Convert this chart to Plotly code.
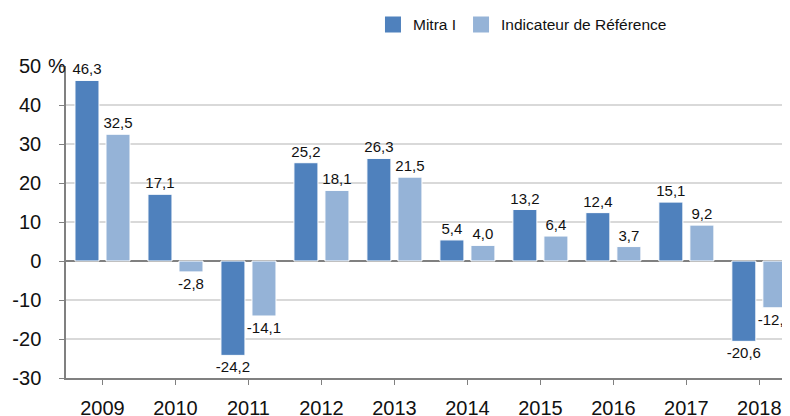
import plotly.graph_objects as go

years = ["2009", "2010", "2011", "2012", "2013", "2014", "2015", "2016", "2017", "2018"]
mitra = [46.3, 17.1, -24.2, 25.2, 26.3, 5.4, 13.2, 12.4, 15.1, -20.6]
reference = [32.5, -2.8, -14.1, 18.1, 21.5, 4.0, 6.4, 3.7, 9.2, -12.0]
series_names = ["Mitra I", "Indicateur de Référence"]
colors = ["#4F81BD", "#95B3D7"]
y_ticks = [-30, -20, -10, 0, 10, 20, 30, 40, 50]

FONT = "Liberation Sans, Arial, sans-serif"

fig = go.Figure()
for name, vals, col in zip(series_names, [mitra, reference], colors):
    fig.add_trace(go.Bar(
        x=years, y=vals, name=name, showlegend=False,
        marker=dict(color=col, line=dict(color="#FFFFFF", width=1)),
        texttemplate="%{y:.1f}", textposition="outside", constraintext="none",
        textfont=dict(family=FONT, size=15, color="#111111"),
        cliponaxis=False,
    ))
    # legend proxy
    fig.add_trace(go.Scatter(
        x=[None], y=[None], mode="markers", name=name,
        marker=dict(symbol="square", size=18, color=col),
    ))

# the page body has an 8px default margin, so the figure is sized to end at the window edge
fig.update_layout(
    width=782, height=408,
    margin=dict(l=58, r=0, t=58, b=38, autoexpand=False),
    paper_bgcolor="white", plot_bgcolor="white",
    separators=",.",
    barmode="group", bargap=0.15, bargroupgap=0.226,
    uniformtext=dict(mode=False),
    font=dict(family=FONT, color="#111111"),
    legend=dict(orientation="h", x=0.424, xanchor="left", y=1.132, yanchor="middle",
                font=dict(family=FONT, size=15.5, color="#111111"),
                bgcolor="rgba(0,0,0,0)", itemclick=False),
    xaxis=dict(type="category", range=[-0.5, 9.42], showgrid=False, automargin=False,
               showline=True, linecolor="#808080", linewidth=1.5,
               ticks="outside", ticklen=5, tickcolor="#808080",
               ticklabelstandoff=6,
               tickfont=dict(family=FONT, size=20, color="#111111"),
               zeroline=False, fixedrange=True),
    yaxis=dict(range=[-30, 50], tickvals=y_ticks, ticktext=[str(v) for v in y_ticks],
               automargin=False,
               showgrid=True, gridcolor="#D9D9D9", gridwidth=1.5,
               zeroline=True, zerolinecolor="#808080", zerolinewidth=1.5,
               showline=True, linecolor="#808080", linewidth=1.5,
               ticks="outside", ticklen=5, tickcolor="#808080",
               ticklabelstandoff=14,
               tickfont=dict(family=FONT, size=20, color="#111111"),
               fixedrange=True),
    annotations=[dict(text="%", xref="paper", yref="y", x=0, y=50, xanchor="right",
                      yanchor="middle", xshift=2, showarrow=False,
                      font=dict(family=FONT, size=20, color="#111111"))],
)

fig.write_html("out.html")
